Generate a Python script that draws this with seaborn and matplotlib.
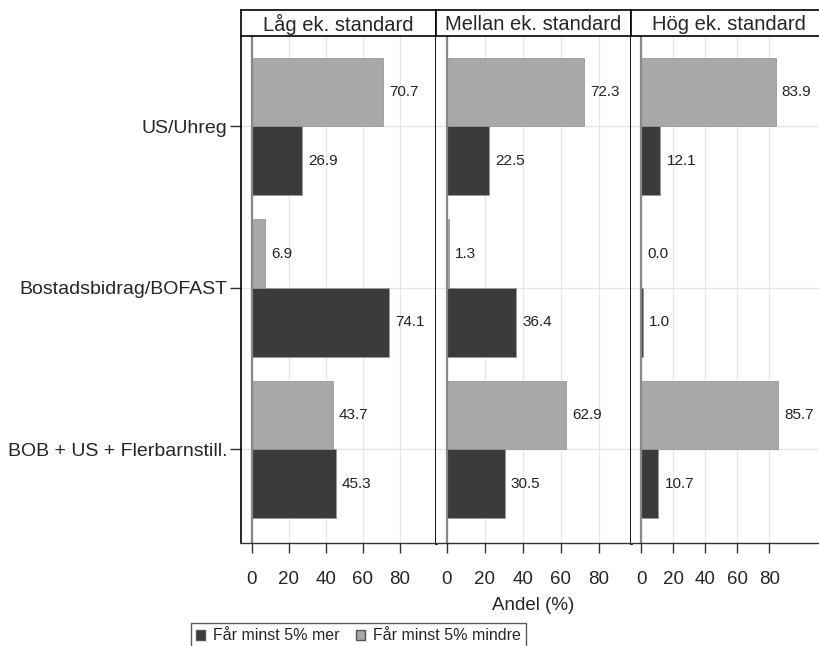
import pandas as pd
import matplotlib
matplotlib.use("Agg")
import matplotlib.pyplot as plt
import seaborn as sns
from matplotlib.patches import Patch

sns.set_theme(style="white")
plt.rcParams['font.family'] = ['Liberation Sans', 'DejaVu Sans']

kategorier = ['US/Uhreg', 'Bostadsbidrag/BOFAST', 'BOB + US + Flerbarnstill.']
paneler = ['Låg ek. standard', 'Mellan ek. standard', 'Hög ek. standard']
grupper = ['Får minst 5% mindre', 'Får minst 5% mer']

# andel per panel, ordning som kategorier
mindre = {
    'Låg ek. standard': [70.7, 6.9, 43.7],
    'Mellan ek. standard': [72.3, 1.3, 62.9],
    'Hög ek. standard': [83.9, 0.0, 85.7],
}
mer = {
    'Låg ek. standard': [26.9, 74.1, 45.3],
    'Mellan ek. standard': [22.5, 36.4, 30.5],
    'Hög ek. standard': [12.1, 1.0, 10.7],
}
xticks = [0, 20, 40, 60, 80]

rows = []
for p in paneler:
    for k, a, b in zip(kategorier, mindre[p], mer[p]):
        rows.append({'panel': p, 'kategori': k, 'grupp': grupper[0], 'andel': a})
        rows.append({'panel': p, 'kategori': k, 'grupp': grupper[1], 'andel': b})
df = pd.DataFrame(rows)

farger = {grupper[0]: '#a8a8a8', grupper[1]: '#3b3b3b'}

W, H = 819, 646
fig = plt.figure(figsize=(W / 100, H / 100), dpi=100)

# pixel-layout: (vänster, höger, xlim)
layout = [(241, 436, (-5.9, 99.5)), (436, 631, (-5.6, 97.0)), (631, 819, (-6.25, 111.0))]
top, bottom, strip_top = 36, 543, 10

for i, (p, (x0, x1, xl)) in enumerate(zip(paneler, layout)):
    ax = fig.add_axes([x0 / W, (H - bottom) / H, (x1 - x0) / W, (bottom - top) / H])
    sub = df[df['panel'] == p]
    sns.barplot(data=sub, y='kategori', x='andel', hue='grupp', hue_order=grupper,
                order=kategorier, palette=farger, orient='h', width=0.85,
                edgecolor='#999999', linewidth=0.6, saturation=1, legend=False, ax=ax)
    for c in ax.containers:
        ax.bar_label(c, fmt='%.1f', padding=4.5, fontsize=11, color='#222222')
    ax.set_xlim(*xl)
    ax.set_ylim(2.58, -0.56)
    ax.set_xticks(xticks)
    ax.set_xticklabels([str(t) for t in xticks], fontsize=13.5)
    for t in xticks:
        ax.axvline(t, color='#e6e6e6', lw=1, zorder=0)
    for j in range(len(kategorier)):
        ax.axhline(j, color='#e6e6e6', lw=1, zorder=0)
    ax.axvline(0, color='#888888', lw=1.6, zorder=1)
    ax.set_xlabel('')
    ax.set_ylabel('')
    ax.tick_params(axis='x', direction='out', length=7, width=1, color='#333333',
                   bottom=True, pad=13)
    if i == 0:
        ax.tick_params(axis='y', direction='out', length=8, width=1, color='#333333',
                       left=True, labelsize=14, pad=2)
        ax.spines['left'].set_visible(True)
        ax.spines['left'].set_linewidth(1.2)
    else:
        ax.set_yticks([])
        ax.spines['left'].set_visible(False)
    ax.spines['top'].set_visible(False)
    ax.spines['right'].set_visible(i < 2)
    ax.spines['right'].set_linewidth(2)
    ax.spines['right'].set_color('black')
    ax.spines['bottom'].set_linewidth(1)
    ax.spines['bottom'].set_color('#333333')
    ax.spines['left'].set_color('black')

    # rubrikremsa
    sx = fig.add_axes([x0 / W, (H - top) / H, (x1 - x0 + (6 if i == 2 else 0)) / W,
                       (top - strip_top) / H])
    sx.set_xticks([])
    sx.set_yticks([])
    for s in sx.spines.values():
        s.set_color('black')
        s.set_linewidth(1.2)
    sx.set_facecolor('white')
    cx = 0.5 if i < 2 else (729 - x0) / (x1 - x0 + 6)
    sx.text(cx, 0.45, p, ha='center', va='center', fontsize=14.5,
            transform=sx.transAxes)

fig.text(533 / W, 1 - 606 / H, 'Andel (%)', ha='center', va='center', fontsize=13.5)

handles = [Patch(facecolor=farger[grupper[1]], edgecolor='#555555', label=grupper[1]),
           Patch(facecolor=farger[grupper[0]], edgecolor='#555555', label=grupper[0])]
leg = fig.legend(handles=handles, loc='lower left', bbox_to_anchor=(183 / W, -10 / H),
                 ncol=2, frameon=True, fontsize=11.5, handlelength=0.6, handleheight=0.6,
                 handletextpad=0.5, columnspacing=1.0, borderpad=0.3, fancybox=False)
leg.get_frame().set_edgecolor('#333333')
leg.get_frame().set_linewidth(1)

fig.savefig('out.png', dpi=100)
